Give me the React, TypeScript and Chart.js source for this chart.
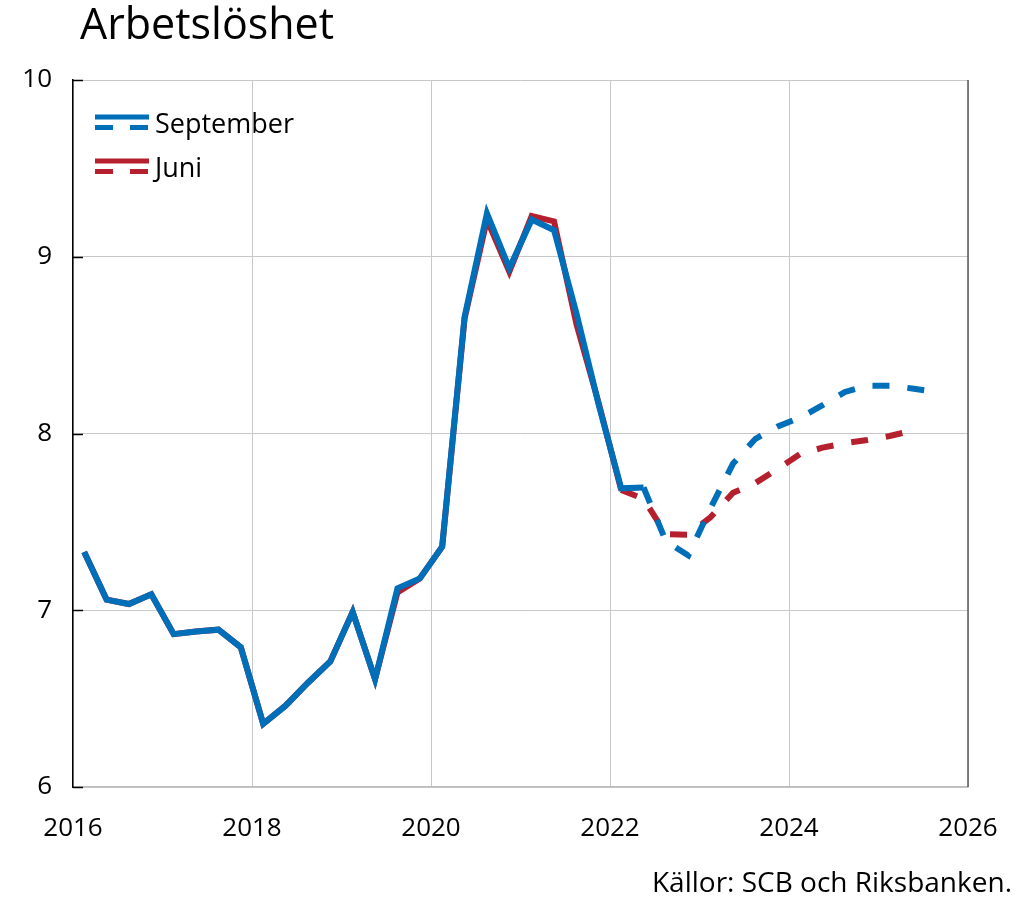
import React, { useEffect, useRef } from 'react';
import { Chart, registerables } from 'chart.js';

Chart.register(...registerables);

// ---- Data ----
const quarters = [
  '2016K1', '2016K2', '2016K3', '2016K4',
  '2017K1', '2017K2', '2017K3', '2017K4',
  '2018K1', '2018K2', '2018K3', '2018K4',
  '2019K1', '2019K2', '2019K3', '2019K4',
  '2020K1', '2020K2', '2020K3', '2020K4',
  '2021K1', '2021K2', '2021K3', '2021K4',
  '2022K1', '2022K2', '2022K3', '2022K4',
  '2023K1', '2023K2', '2023K3', '2023K4',
  '2024K1', '2024K2', '2024K3', '2024K4',
  '2025K1', '2025K2', '2025K3',
];

const september = [
  7.33, 7.06, 7.035, 7.09,
  6.865, 6.88, 6.89, 6.79,
  6.357, 6.46, 6.59, 6.71,
  6.99, 6.61, 7.124, 7.18,
  7.36, 8.66, 9.245, 8.935,
  9.21, 9.15, 8.68, 8.16,
  7.69, 7.695, 7.39, 7.31,
  7.58, 7.83, 7.97, 8.04,
  8.09, 8.16, 8.235, 8.27,
  8.27, 8.255, 8.236,
];

const juni = [
  7.33, 7.06, 7.035, 7.09,
  6.865, 6.88, 6.89, 6.79,
  6.357, 6.46, 6.59, 6.71,
  6.99, 6.61, 7.10, 7.18,
  7.36, 8.65, 9.21, 8.915,
  9.23, 9.2, 8.62, 8.17,
  7.68, 7.63, 7.43, 7.427,
  7.527, 7.665, 7.72, 7.8,
  7.884, 7.92, 7.945, 7.963,
  7.986, 8.016,
];

const septemberForecastStart = 25; // index of last outcome (2022K2)
const juniForecastStart = 24; // index of last outcome (2022K1)

const xTicks = [2016, 2018, 2020, 2022, 2024, 2026];
const yTicks = [6, 7, 8, 9, 10];
const seriesNames = ['September', 'Juni'];
const titleText = 'Arbetslöshet';
const sourceText = 'Källor: SCB och Riksbanken.';

const BLUE = '#006fb9';
const RED = '#b61f2d';
const FONT = '"Open Sans", "DejaVu Sans", sans-serif';
const DASH = [17, 18];

function quarterToYear(q: string): number {
  const [y, k] = q.split('K');
  return Number(y) + (Number(k) - 0.5) / 4;
}

function toPoints(values: number[]) {
  return values.map((v, i) => ({ x: quarterToYear(quarters[i]), y: v }));
}

const overlayPlugin = {
  id: 'overlay',
  afterDraw(chart: any) {
    const ctx = chart.ctx as CanvasRenderingContext2D;
    const { left, right, top, bottom } = chart.chartArea;
    ctx.save();

    // right border
    ctx.strokeStyle = '#595959';
    ctx.lineWidth = 1.5;
    ctx.beginPath();
    ctx.moveTo(right, top);
    ctx.lineTo(right, bottom);
    ctx.stroke();

    // inward y ticks
    ctx.strokeStyle = '#000';
    ctx.lineWidth = 1.5;
    for (const v of yTicks) {
      const y = Math.round(chart.scales.y.getPixelForValue(v)) + 0.5;
      ctx.beginPath();
      ctx.moveTo(left, y);
      ctx.lineTo(left + 10, y);
      ctx.stroke();
    }

    // title
    ctx.fillStyle = '#000';
    ctx.textAlign = 'left';
    ctx.textBaseline = 'alphabetic';
    ctx.font = `43px ${FONT}`;
    ctx.fillText(titleText, 80, 39);

    // source
    ctx.font = `28px ${FONT}`;
    ctx.textAlign = 'right';
    ctx.fillText(sourceText, 1012, 892);

    // legend
    const colors = [BLUE, RED];
    const baselines = [133, 177];
    ctx.textAlign = 'left';
    ctx.font = `27px ${FONT}`;
    seriesNames.forEach((name, i) => {
      const b = baselines[i];
      ctx.strokeStyle = colors[i];
      ctx.lineWidth = 5;
      ctx.lineCap = 'butt';
      ctx.setLineDash([]);
      ctx.beginPath();
      ctx.moveTo(95, b - 16);
      ctx.lineTo(149, b - 16);
      ctx.stroke();
      ctx.setLineDash([18, 17]);
      ctx.beginPath();
      ctx.moveTo(95, b - 5.5);
      ctx.lineTo(149, b - 5.5);
      ctx.stroke();
      ctx.setLineDash([]);
      ctx.fillStyle = '#000';
      ctx.fillText(name, 155, b);
    });

    ctx.restore();
  },
};

export default function App() {
  const canvasRef = useRef<HTMLCanvasElement | null>(null);

  useEffect(() => {
    if (!canvasRef.current) return;
    const chart = new Chart(canvasRef.current, {
      type: 'line',
      data: {
        datasets: [
          {
            label: seriesNames[0],
            data: toPoints(september),
            borderColor: BLUE,
            borderWidth: 6,
            pointRadius: 0,
            tension: 0,
            fill: false,
            borderJoinStyle: 'miter',
            borderCapStyle: 'butt',
            order: 0,
            segment: {
              borderDash: (c: any) => (c.p0DataIndex >= septemberForecastStart ? DASH : undefined),
            },
          },
          {
            label: seriesNames[1],
            data: toPoints(juni),
            borderColor: RED,
            borderWidth: 6,
            pointRadius: 0,
            tension: 0,
            fill: false,
            borderJoinStyle: 'miter',
            borderCapStyle: 'butt',
            order: 1,
            segment: {
              borderDash: (c: any) => (c.p0DataIndex >= juniForecastStart ? DASH : undefined),
            },
          },
        ],
      },
      options: {
        animation: false,
        responsive: false,
        devicePixelRatio: 1,
        layout: { padding: { top: 80, right: 49, left: 0, bottom: 0 } },
        plugins: {
          legend: { display: false },
          tooltip: { enabled: false },
        },
        scales: {
          x: {
            type: 'linear',
            min: 2016,
            max: 2026,
            afterBuildTicks: (s: any) => {
              s.ticks = xTicks.map((v) => ({ value: v }));
            },
            afterFit: (s: any) => {
              s.height = 112;
              s.paddingLeft = 0;
              s.paddingRight = 0;
            },
            ticks: {
              autoSkip: false,
              maxRotation: 0,
              padding: 26,
              color: '#000',
              font: { family: FONT, size: 26 },
              callback: (v: any) => String(v),
            },
            grid: { color: '#c8c8c8', lineWidth: 1, drawTicks: false },
            border: { color: '#bdbdbd', width: 1.5 },
          },
          y: {
            min: 6,
            max: 10,
            afterBuildTicks: (s: any) => {
              s.ticks = yTicks.map((v) => ({ value: v }));
            },
            afterFit: (s: any) => {
              s.width = 73;
              s.paddingTop = 0;
              s.paddingBottom = 0;
            },
            ticks: {
              padding: 21,
              color: '#000',
              font: { family: FONT, size: 26 },
              callback: (v: any) => String(v),
            },
            grid: { color: '#c8c8c8', lineWidth: 1, drawTicks: false },
            border: { color: '#000', width: 1.5 },
          },
        },
      },
      plugins: [overlayPlugin],
    });
    return () => chart.destroy();
  }, []);

  return (
    <div style={{ position: 'absolute', left: 0, top: 0, width: 1017, height: 899, background: '#fff' }}>
      <canvas ref={canvasRef} width={1017} height={899} style={{ width: 1017, height: 899 }} />
    </div>
  );
}
